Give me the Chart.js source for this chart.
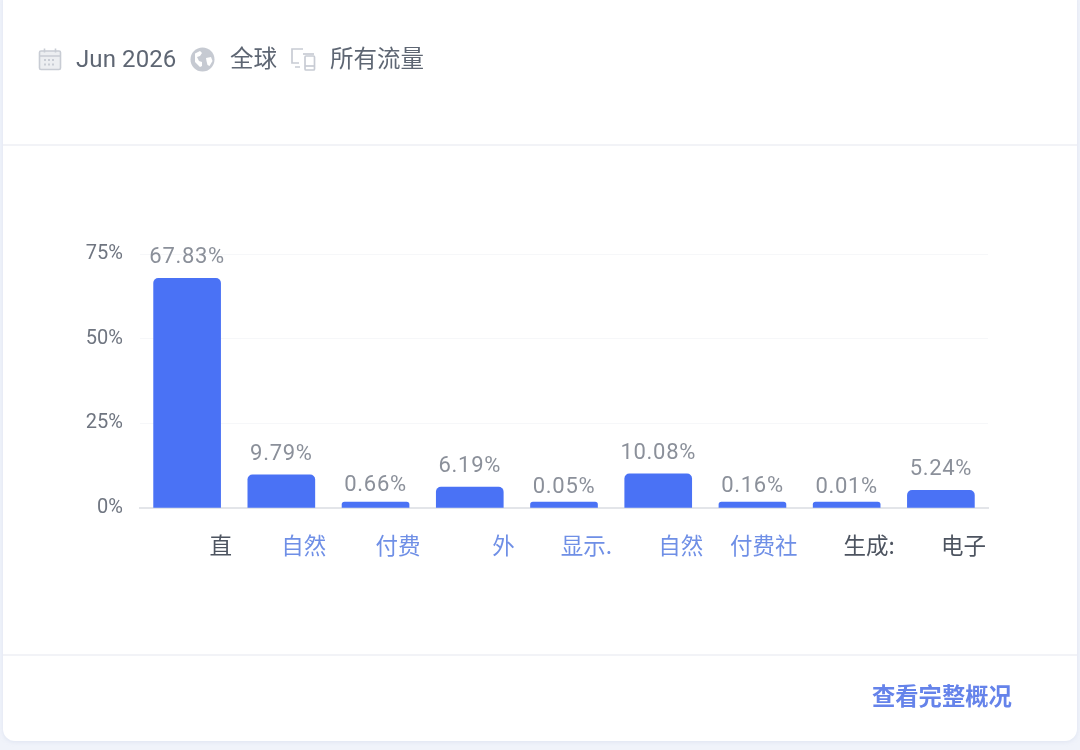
<!DOCTYPE html>
<html lang="zh">
<head>
<meta charset="utf-8">
<title>流量来源</title>
<script src="https://cdn.jsdelivr.net/npm/chart.js@4"></script>
<style>
html,body{margin:0;padding:0;width:1080px;height:750px;overflow:hidden;background:#f0f3fa;font-family:Roboto,"Noto Sans CJK SC",sans-serif;}
#page{position:absolute;left:0;top:0;width:1080px;height:750px;filter:blur(0.45px);}
#card{position:absolute;left:3px;top:-10px;width:1074px;height:751px;background:#fff;border-radius:12px;box-shadow:0 1px 4px rgba(190,200,225,.35);}
.hr{position:absolute;left:3px;width:1074px;height:2px;background:#f2f3f7;}
.t{position:absolute;top:44px;font-size:23.5px;line-height:30px;color:#5e6673;white-space:nowrap;}
svg{position:absolute;}
#more{position:absolute;left:872px;top:682px;font-size:23.3px;line-height:30px;font-weight:700;color:#6583ea;white-space:nowrap;}
#c{position:absolute;left:0;top:0;}
</style>
</head>
<body>
<div id="page">
<div id="card"></div>
<div class="hr" style="top:144px"></div>
<div class="hr" style="top:654px"></div>

<svg style="left:38px;top:47px" width="24" height="24" viewBox="0 0 24 24" fill="none" stroke="#c8ccd4" stroke-width="1.6">
<rect x="1.5" y="4" width="21" height="18.5" rx="1.5" fill="#eceef1"/><path d="M1.5 9h21M6.5 1.5v4M17.5 1.5v4"/>
<path stroke-width="2" stroke-dasharray="2 2" d="M6 13h12M6 17.5h12"/></svg>
<div class="t" style="left:76px;font-size:24px;letter-spacing:.1px">Jun 2026</div>

<svg style="left:190px;top:47px" width="25" height="25" viewBox="0 0 25 25">
<circle cx="12.5" cy="12.5" r="12" fill="#c6cad2"/>
<path fill="#fff" d="M5 6.5l5-2.5 2 2-2 3-3 1 2 4 3 1 0 4-2 1-5-5zM16 11l5-1 1.500 4-3 5-2-1-1-4z"/></svg>
<div class="t" style="left:230px">全球</div>

<svg style="left:290px;top:47px" width="27" height="25" viewBox="0 0 27 25" fill="none" stroke="#c8ccd4" stroke-width="1.700">
<path d="M13 2H2v14h7M5 20h5"/><path d="M24 7H13"/><rect x="15" y="9" width="9.500" height="14" rx="1"/><path d="M15 19h9.500"/></svg>
<div class="t" style="left:330px">所有流量</div>

<canvas id="c" width="1080" height="750"></canvas>
<div id="more">查看完整概况</div>
</div>

<script>
const categories = ["直", "自然", "付费", "外", "显示.", "自然", "付费社", "生成:", "电子"];
const shares = [67.83, 9.79, 0.66, 6.19, 0.05, 10.08, 0.16, 0.01, 5.24];
const categoryColors = ["#4d5460", "#6f8fe6", "#6f8fe6", "#6f8fe6", "#6f8fe6", "#6f8fe6", "#6f8fe6", "#4d5460", "#4d5460"];
const valueTicks = [0, 25, 50, 75];

const valueLabels = {
  id: "valueLabels",
  afterDatasetsDraw(chart) {
    const ctx = chart.ctx, y = chart.scales.y;
    ctx.save();
    ctx.font = "22px Roboto";
    ctx.letterSpacing = "0.7px";
    ctx.fillStyle = "#8b909a";
    ctx.textAlign = "center";
    ctx.textBaseline = "alphabetic";
    chart.getDatasetMeta(0).data.forEach((bar, i) => {
      ctx.fillText(shares[i].toFixed(2) + "%", bar.x, y.getPixelForValue(shares[i]) - 15);
    });
    ctx.restore();
  }
};

new Chart(document.getElementById("c"), {
  type: "bar",
  data: {
    labels: categories,
    datasets: [{
      data: shares,
      backgroundColor: "#4a72f5",
      barThickness: 67,
      minBarLength: 6,
      borderRadius: { topLeft: 5, topRight: 5 },
      borderSkipped: "bottom"
    }]
  },
  options: {
    responsive: false,
    animation: false,
    devicePixelRatio: 1,
    layout: { padding: { left: 0, top: 254, right: 92, bottom: 192 } },
    plugins: { legend: { display: false }, tooltip: { enabled: false }, title: { display: false } },
    scales: {
      x: {
        afterFit(s) { s.height = 50; },
        grid: { display: false, drawTicks: false },
        border: { color: "#e3e5e9", width: 2 },
        ticks: {
          padding: 24,
          maxRotation: 0,
          autoSkip: false,
          font: { family: "'Noto Sans CJK SC'", size: 22.5 },
          color: (c) => categoryColors[c.index],
          callback(v, i) { const l = categories[i]; return "\u3000".repeat(Math.max(0, 4 - l.replace(/[.:]/, "").length)) + l; }
        }
      },
      y: {
        min: 0,
        max: 75,
        afterBuildTicks(s) { s.ticks = valueTicks.map(value => ({ value })); },
        afterFit(s) { s.width = 140; },
        grid: { color: "#f6f7f9", drawTicks: false, lineWidth: 1 },
        border: { display: false },
        ticks: {
          padding: 17,
          font: { family: "Roboto", size: 20 },
          color: "#6f7580",
          callback: (v) => v + "%"
        }
      }
    }
  },
  plugins: [valueLabels]
});
</script>
</body>
</html>
